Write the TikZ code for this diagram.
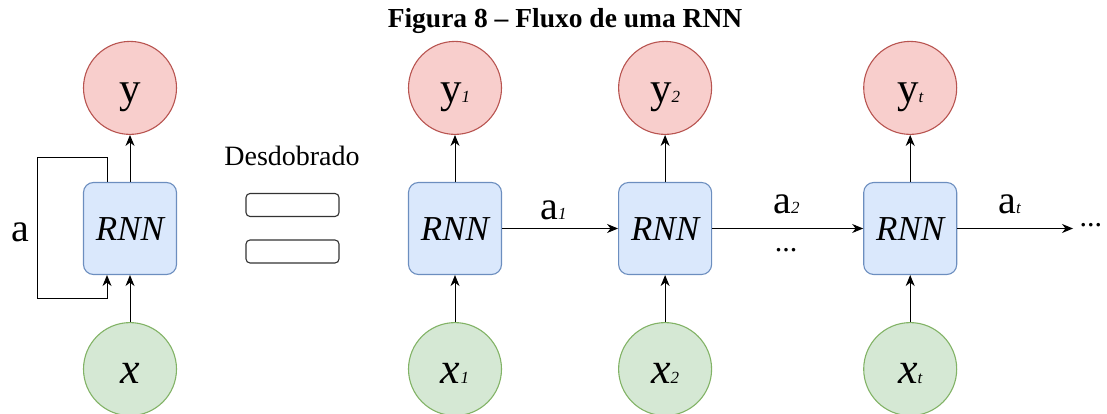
\documentclass[tikz,border=0pt]{standalone}
\usepackage{fontspec}
\setmainfont{Liberation Serif}
\usetikzlibrary{positioning}
\usetikzlibrary{arrows.meta}

\definecolor{outfill}{HTML}{F8CECC}
\definecolor{outline}{HTML}{B85450}
\definecolor{cellfill}{HTML}{DAE8FC}
\definecolor{cellline}{HTML}{6C8EBF}
\definecolor{infill}{HTML}{D5E8D4}
\definecolor{inline}{HTML}{82B366}

% small italic index after a letter
\newcommand{\subidx}[1]{{\fontsize{17pt}{17pt}\selectfont\itshape #1}}

\begin{document}
\begin{tikzpicture}[x=1pt,y=-1pt,>={Stealth[length=11pt,width=9pt,inset=3.5pt]},line width=1pt,
  node distance=47pt,
  cell/.style={draw=cellline,fill=cellfill,line width=1.1pt,rounded corners=10pt,minimum width=93pt,minimum height=92pt,inner sep=0pt,
    text height=31pt,text depth=7.7pt,font=\fontsize{35pt}{35pt}\selectfont\itshape},
  outnode/.style={circle,draw=outline,fill=outfill,line width=1.1pt,minimum size=93pt,inner sep=0pt,
    text height=38pt,text depth=9.5pt,font=\fontsize{43pt}{43pt}\selectfont},
  innode/.style={circle,draw=inline,fill=infill,line width=1.1pt,minimum size=93pt,inner sep=0pt,
    text height=39pt,text depth=9.7pt,font=\fontsize{44pt}{44pt}\selectfont\itshape},
  lbl/.style={inner sep=0pt,font=\fontsize{40pt}{40pt}\selectfont},
  eqbar/.style={draw=black!80,fill=white,line width=1.1pt,rounded corners=4pt,minimum width=93pt,minimum height=23pt,inner sep=0pt},
]
    \useasboundingbox (0,0) rectangle (1107,414);
    \node[anchor=base,font=\bfseries\fontsize{27.5pt}{27.5pt}\selectfont] (title) at (565,28) {Figura 8 – Fluxo de uma RNN};

    % folded network
    \node[cell] (rnn0) at (130,228.5) {RNN};
    \node[outnode] (y0) [above=of rnn0] {y};
    \node[innode] (x0) [below=of rnn0] {x};
    \coordinate (fb) at (107,0);
    \coordinate (loopA) at (37,158);
    \coordinate (loopB) at (37,298);
    \node[lbl] (a0) at (20,232.5) {a};

    % equals sign
    \node[anchor=base,font=\fontsize{28pt}{28pt}\selectfont] (unrolled) at (292,165) {Desdobrado};
    \node[eqbar] (eqtop) at (292.5,205) {};
    \node[eqbar] (eqbot) at (292.5,251.5) {};

    % unrolled network
    \node[cell] (rnn1) at (455,228.5) {RNN};
    \node[cell] (rnn2) [right=116pt of rnn1] {RNN};
    \node[cell] (rnn3) [right=151pt of rnn2] {RNN};
    \node[outnode] (y1) [above=of rnn1] {y\subidx{1}};
    \node[outnode] (y2) [above=of rnn2] {y\subidx{2}};
    \node[outnode] (y3) [above=of rnn3] {y\subidx{t}};
    \node[innode] (x1) [below=of rnn1] {x\subidx{1}};
    \node[innode] (x2) [below=of rnn2] {x\subidx{2}};
    \node[innode] (x3) [below=of rnn3] {x\subidx{t}};
    \node[lbl,anchor=base] (a1) at (553.5,219) {a\subidx{1}};
    \node[lbl,anchor=base] (a2) at (786.5,213) {a\subidx{2}};
    \node[lbl,anchor=base] (a3) at (1009.5,213) {a\subidx{t}};
    \node[inner sep=0pt,font=\fontsize{30pt}{30pt}\selectfont] (gap) at (786,250) {...};
    \node[inner sep=0pt,anchor=west,font=\fontsize{30pt}{30pt}\selectfont] (more) at (1079,225) {...};

    % connections
    \draw[->] (x0) -- (rnn0);
    \draw[->] (rnn0) -- (y0);
    \draw[->] (rnn0.north -| fb) |- (loopA) |- (fb |- loopB) -- (rnn0.south -| fb);
    \draw[->] (x1) -- (rnn1);
    \draw[->] (x2) -- (rnn2);
    \draw[->] (x3) -- (rnn3);
    \draw[->] (rnn1) -- (y1);
    \draw[->] (rnn2) -- (y2);
    \draw[->] (rnn3) -- (y3);
    \draw[->] (rnn1) -- (rnn2);
    \draw[->] (rnn2) -- (rnn3);
    \draw[->,shorten >=6pt] (rnn3.east) -- (rnn3.east -| more.west);
\end{tikzpicture}
\end{document}
